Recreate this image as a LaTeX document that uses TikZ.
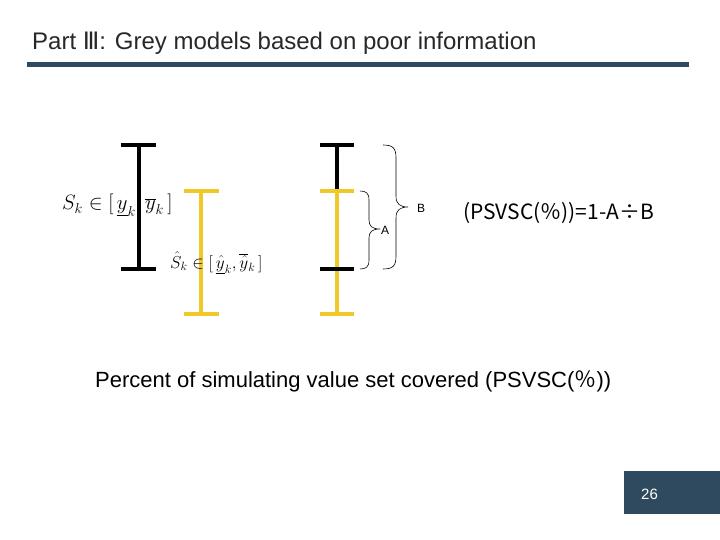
\documentclass[tikz,border=0pt]{standalone}
\usepackage{fontspec}
\setmainfont{Liberation Sans}
\newfontfamily\dvs{DejaVu Sans}
\newfontfamily\cjk{Noto Sans CJK SC}
\definecolor{slate}{RGB}{47,73,94}
\definecolor{barYellow}{RGB}{240,200,40}
\definecolor{titlegrey}{RGB}{40,40,40}
\tikzset{
  blackbar/.style={line width=4pt, draw=black},
  yellowbar/.style={line width=4pt, draw=barYellow},
  bracepath/.style={line width=0.6pt, draw=black},
  lbl/.style={inner sep=0pt, anchor=base west},
}
\begin{document}
\begin{tikzpicture}[x=1pt,y=-1pt]
\useasboundingbox (0,0) rectangle (720,540);
\fill[white] (0,0) rectangle (720,540);
% title
\node[lbl, text=titlegrey, font=\fontsize{24}{28}\selectfont] (title) at (32,50) {Part {\dvs Ⅲ}: Grey models based on poor information};
\fill[slate] (27,62) rectangle (689,67);
% first pair
\draw[blackbar] (139,145) -- (139,269);
\draw[blackbar] (121,145) -- (156,145);
\draw[blackbar] (121,269) -- (156,269);
\node[lbl, font=\fontsize{20}{24}\selectfont] (s1) at (62,210) {$S_k\in[\,\underline{y}_k,\overline{y}_k\,]$};
\draw[yellowbar] (201,191) -- (201,314);
\draw[yellowbar] (184,191) -- (219,191);
\draw[yellowbar] (184,314) -- (219,314);
\node[lbl, font=\fontsize{17}{20}\selectfont] (s2) at (170,268) {$\hat S_k\in[\,\underline{\hat y}_k,\overline{\hat y}_k\,]$};
% second pair
\draw[blackbar] (337,145) -- (337,191);
\draw[blackbar] (320,145) -- (354,145);
\draw[yellowbar] (337,191) -- (337,314);
\draw[yellowbar] (320,191) -- (354,191);
\draw[yellowbar] (320,314) -- (354,314);
\draw[blackbar] (320,269) -- (354,269);
% brace B
\draw[bracepath] (383,145) .. controls (393,145) and (396,148) .. (396,158) -- (396,196)
  .. controls (396,204) and (400,207) .. (408,207)
  .. controls (400,207) and (396,210) .. (396,218) -- (396,256)
  .. controls (396,266) and (393,269) .. (383,269);
\node[lbl, font=\fontsize{12}{14}\selectfont] (B) at (417,212) {B};
% brace A
\draw[bracepath] (360,191) .. controls (366,191) and (369,193) .. (369,200) -- (369,220)
  .. controls (369,226) and (372,229) .. (380,229)
  .. controls (372,229) and (369,232) .. (369,238) -- (369,260)
  .. controls (369,267) and (366,269) .. (360,269);
\node[lbl, font=\fontsize{12}{14}\selectfont] (A) at (381,234) {A};
% formula
\node[lbl, font=\cjk\fontsize{21}{24}\selectfont] (f) at (463,220) {(PSVSC(％))=1-A÷B};
% bottom sentence
\node[lbl, font=\fontsize{22}{26}\selectfont] (p) at (95,387) {Percent of simulating value set covered (PSVSC({\cjk ％}))};
% page number
\fill[slate] (624,471) rectangle (720,514);
\node[lbl, text=white, font=\fontsize{15}{18}\selectfont] (n) at (641,499) {26};
\end{tikzpicture}
\end{document}
